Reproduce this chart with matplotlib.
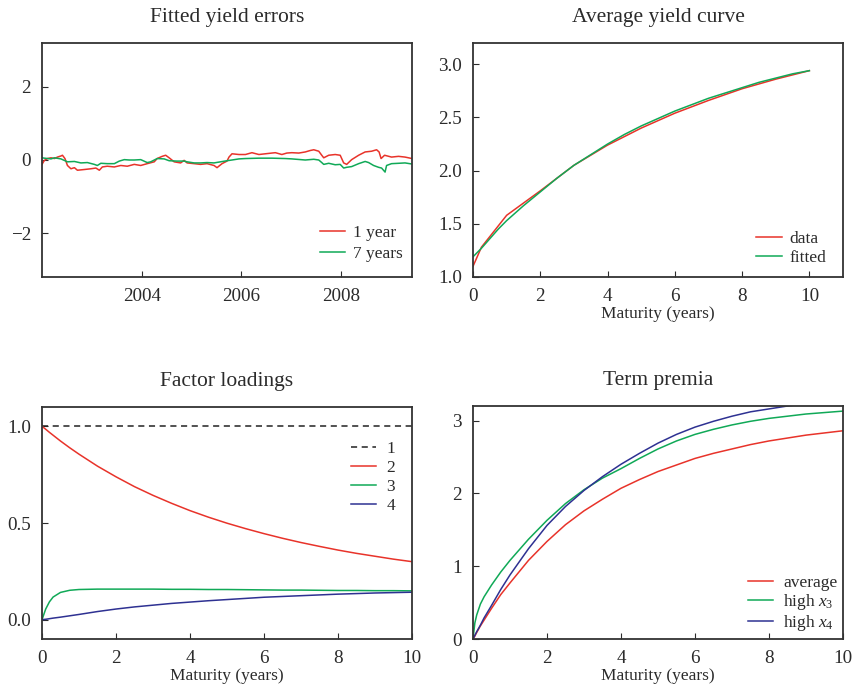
import matplotlib
matplotlib.use("Agg")
import matplotlib.pyplot as plt

plt.rcParams['font.family'] = ['Liberation Serif', 'DejaVu Serif']
plt.rcParams['mathtext.fontset'] = 'custom'
plt.rcParams['mathtext.rm'] = 'Liberation Serif'
plt.rcParams['mathtext.it'] = 'Liberation Serif:italic'
plt.rcParams['text.color'] = '#2b2b2b'
plt.rcParams['axes.labelcolor'] = '#2b2b2b'
plt.rcParams['xtick.color'] = '#2b2b2b'
plt.rcParams['ytick.color'] = '#2b2b2b'

RED = '#e8332a'
GREEN = '#10a957'
BLUE = '#2e3192'

# ---------------- Panel 1: fitted yield errors ----------------
err1_dates = [2002.00, 2002.03, 2002.05, 2002.11, 2002.18, 2002.25, 2002.31, 2002.38, 2002.41,
              2002.46, 2002.51, 2002.58, 2002.65, 2002.71, 2002.85, 2002.98, 2003.08, 2003.15,
              2003.21, 2003.31, 2003.45, 2003.58, 2003.71, 2003.85, 2003.98, 2004.11, 2004.25,
              2004.31, 2004.41, 2004.48, 2004.55, 2004.65, 2004.78, 2004.85, 2004.91, 2005.05,
              2005.18, 2005.31, 2005.45, 2005.51, 2005.61, 2005.71, 2005.75, 2005.81, 2005.95,
              2006.08, 2006.21, 2006.35, 2006.48, 2006.61, 2006.68, 2006.81, 2006.91, 2007.01,
              2007.15, 2007.28, 2007.38, 2007.45, 2007.55, 2007.61, 2007.65, 2007.75, 2007.88,
              2007.98, 2008.05, 2008.11, 2008.21, 2008.35, 2008.48, 2008.61, 2008.71, 2008.76,
              2008.80, 2008.87, 2009.01, 2009.15, 2009.28, 2009.42]
err1_vals = [-0.12, -0.05, -0.01, 0.04, 0.06, 0.04, 0.08, 0.11, 0.13,
             0.04, -0.15, -0.24, -0.21, -0.28, -0.26, -0.24, -0.22, -0.28,
             -0.19, -0.17, -0.19, -0.15, -0.17, -0.12, -0.15, -0.10, -0.05,
             0.04, 0.10, 0.13, 0.06, -0.05, -0.08, -0.01, -0.08, -0.10,
             -0.12, -0.10, -0.15, -0.21, -0.10, -0.03, 0.08, 0.17, 0.15,
             0.15, 0.20, 0.15, 0.17, 0.19, 0.20, 0.15, 0.19, 0.20,
             0.19, 0.22, 0.26, 0.28, 0.24, 0.13, 0.06, 0.13, 0.15,
             0.13, -0.08, -0.12, 0.01, 0.13, 0.22, 0.24, 0.28, 0.22,
             0.04, 0.13, 0.08, 0.10, 0.08, 0.04]

err7_dates = [2002.00, 2002.05, 2002.11, 2002.18, 2002.25, 2002.38, 2002.51, 2002.65, 2002.78,
              2002.91, 2003.05, 2003.11, 2003.18, 2003.31, 2003.45, 2003.55, 2003.65, 2003.75,
              2003.85, 2003.98, 2004.11, 2004.18, 2004.31, 2004.45, 2004.55, 2004.71, 2004.85,
              2004.91, 2005.05, 2005.18, 2005.31, 2005.45, 2005.58, 2005.71, 2005.81, 2005.95,
              2006.08, 2006.35, 2006.61, 2006.88, 2007.01, 2007.28, 2007.45, 2007.55, 2007.61,
              2007.65, 2007.75, 2007.88, 2007.98, 2008.05, 2008.11, 2008.21, 2008.35, 2008.48,
              2008.55, 2008.65, 2008.75, 2008.81, 2008.88, 2008.91, 2009.01, 2009.15, 2009.28,
              2009.42]
err7_vals = [0.06, 0.05, 0.04, 0.03, 0.06, 0.03, -0.05, -0.04, -0.08,
             -0.07, -0.12, -0.15, -0.09, -0.10, -0.10, -0.03, 0.01, 0.00,
             0.00, 0.01, -0.07, -0.05, 0.04, 0.03, -0.02, -0.03, -0.03,
             -0.05, -0.08, -0.08, -0.07, -0.08, -0.05, -0.02, 0.00, 0.03,
             0.04, 0.05, 0.05, 0.04, 0.03, 0.00, 0.02, 0.00, -0.07,
             -0.12, -0.09, -0.13, -0.12, -0.22, -0.20, -0.18, -0.10, -0.04,
             -0.07, -0.15, -0.20, -0.22, -0.33, -0.15, -0.10, -0.09, -0.08,
             -0.11]
err_labels = ['1 year', '7 years']
year_ticks = [2004, 2006, 2008]

# ---------------- Panel 2: average yield curve ----------------
data_mat = [0, 0.25, 1, 2, 3, 4, 5, 6, 7, 8, 9, 10]
data_yield = [1.10, 1.28, 1.58, 1.81, 2.05, 2.24, 2.40, 2.54, 2.66, 2.77, 2.86, 2.94]
fit_mat = [0, 0.25, 0.5, 0.75, 1, 1.5, 2, 2.5, 3, 3.5, 4, 4.5, 5, 5.5, 6, 6.5, 7, 7.5, 8, 8.5,
           9, 9.5, 10]
fit_yield = [1.19, 1.27, 1.36, 1.45, 1.53, 1.67, 1.80, 1.93, 2.05, 2.15, 2.25, 2.34, 2.42,
             2.49, 2.56, 2.62, 2.68, 2.73, 2.78, 2.83, 2.87, 2.91, 2.94]
curve_labels = ['data', 'fitted']

# ---------------- Panel 3: factor loadings ----------------
load_mat = [0, 0.1, 0.2, 0.3, 0.5, 0.75, 1, 1.5, 2, 2.5, 3, 3.5, 4, 4.5, 5, 5.5, 6, 6.5, 7,
            7.5, 8, 8.5, 9, 9.5, 10]
load1 = [1.0] * 25
load2 = [1.000, 0.985, 0.969, 0.954, 0.924, 0.889, 0.856, 0.794, 0.739, 0.688, 0.643,
         0.602, 0.564, 0.530, 0.499, 0.471, 0.445, 0.421, 0.399, 0.379, 0.360, 0.343,
         0.328, 0.313, 0.300]
load3 = [0.000, 0.055, 0.092, 0.117, 0.141, 0.152, 0.156, 0.158, 0.158, 0.158, 0.158,
         0.157, 0.157, 0.156, 0.156, 0.155, 0.154, 0.153, 0.153, 0.152, 0.151, 0.151,
         0.150, 0.150, 0.149]
load4 = [0.000, 0.002, 0.005, 0.008, 0.013, 0.020, 0.027, 0.042, 0.055, 0.066, 0.075,
         0.084, 0.091, 0.098, 0.104, 0.110, 0.116, 0.120, 0.124, 0.128, 0.132, 0.135,
         0.138, 0.140, 0.142]
load_labels = ['1', '2', '3', '4']

# ---------------- Panel 4: term premia ----------------
tp_mat = [0, 0.05, 0.1, 0.2, 0.3, 0.5, 0.75, 1, 1.5, 2, 2.5, 3, 3.5, 4, 4.5, 5, 5.5, 6, 6.5,
          7, 7.5, 8, 8.5, 9, 9.5, 10]
tp_avg = [0.00, 0.04, 0.09, 0.18, 0.26, 0.42, 0.61, 0.77, 1.08, 1.34, 1.57, 1.76, 1.92,
          2.07, 2.19, 2.30, 2.39, 2.48, 2.55, 2.61, 2.67, 2.72, 2.76, 2.80, 2.83, 2.86]
tp_x3 = [0.00, 0.22, 0.33, 0.48, 0.58, 0.74, 0.92, 1.08, 1.37, 1.63, 1.86, 2.05, 2.21,
         2.34, 2.48, 2.61, 2.72, 2.81, 2.88, 2.94, 2.99, 3.03, 3.06, 3.09, 3.11, 3.13]
tp_x4 = [0.00, 0.05, 0.10, 0.19, 0.29, 0.46, 0.68, 0.88, 1.24, 1.56, 1.82, 2.04, 2.23,
         2.40, 2.55, 2.69, 2.81, 2.91, 2.99, 3.06, 3.12, 3.16, 3.20, 3.23, 3.26, 3.28]
tp_labels = ['average', 'high $x_3$', 'high $x_4$']

maturity_ticks = [0, 2, 4, 6, 8, 10]

# ---------------- Figure ----------------
W, H = 852, 688
fig = plt.figure(figsize=(W / 100, H / 100), dpi=100)


def px_axes(l, t, r, b):
    return fig.add_axes([l / W, 1 - b / H, (r - l) / W, (b - t) / H])


ax1 = px_axes(42, 43, 412, 277)
ax2 = px_axes(473, 43, 843, 277)
ax3 = px_axes(42, 407, 412, 639)
ax4 = px_axes(473, 406, 843, 639)

FS = 12.5      # legend / axis label size
TKS = 13.8     # tick label size
TFS = 15.5     # title size
LW = 1.1

for ax in (ax1, ax2, ax3, ax4):
    for sp in ax.spines.values():
        sp.set_color('#333333')
        sp.set_linewidth(1.3)
    ax.tick_params(direction='in', length=4, width=0.8, top=False, right=False,
                   labelsize=TKS)
    ax.tick_params(axis='y', pad=8)
    ax.tick_params(axis='x', pad=8)

leg_kw = dict(frameon=False, fontsize=FS, handlelength=1.45, borderaxespad=0.0,
              borderpad=0.0)

# Panel 1
ax1.plot(err1_dates, err1_vals, color=RED, lw=LW, label=err_labels[0])
ax1.plot(err7_dates, err7_vals, color=GREEN, lw=LW, label=err_labels[1])
ax1.set_xlim(2002.0, 2009.42)
ax1.set_ylim(-3.2, 3.2)
ax1.set_xticks(year_ticks)
ax1.set_xticklabels([str(y) for y in year_ticks])
ax1.set_yticks([-2, 0, 2])
ax1.set_title('Fitted yield errors', fontsize=TFS, pad=15)
ax1.legend(loc='lower right', handletextpad=0.45, labelspacing=0.25,
           bbox_to_anchor=(0.975, 0.065), **leg_kw)

# Panel 2
ax2.plot(data_mat, data_yield, color=RED, lw=LW, label=curve_labels[0])
ax2.plot(fit_mat, fit_yield, color=GREEN, lw=LW, label=curve_labels[1])
ax2.set_xlim(0, 11)
ax2.set_ylim(1.0, 3.2)
ax2.set_xticks(maturity_ticks)
ax2.set_yticks([1.0, 1.5, 2.0, 2.5, 3.0])
ax2.set_yticklabels(['1.0', '1.5', '2.0', '2.5', '3.0'])
ax2.set_xlabel('Maturity (years)', fontsize=FS, labelpad=1)
ax2.set_title('Average yield curve', fontsize=TFS, pad=15)
ax2.legend(loc='lower right', handletextpad=0.45, labelspacing=0.18,
           bbox_to_anchor=(0.955, 0.045), **leg_kw)

# Panel 3
ax3.plot(load_mat, load1, color='#222222', lw=LW, ls=(0, (4, 3)), label=load_labels[0])
ax3.plot(load_mat, load2, color=RED, lw=LW, label=load_labels[1])
ax3.plot(load_mat, load3, color=GREEN, lw=LW, label=load_labels[2])
ax3.plot(load_mat, load4, color=BLUE, lw=LW, label=load_labels[3])
ax3.set_xlim(0, 10)
ax3.set_ylim(-0.1, 1.1)
ax3.set_xticks(maturity_ticks)
ax3.set_yticks([0.0, 0.5, 1.0])
ax3.set_yticklabels(['0.0', '0.5', '1.0'])
ax3.set_xlabel('Maturity (years)', fontsize=FS, labelpad=1)
ax3.set_title('Factor loadings', fontsize=TFS, pad=15)
ax3.legend(loc='upper right', handletextpad=0.6, labelspacing=0.16,
           bbox_to_anchor=(0.955, 0.855), **leg_kw)

# Panel 4
ax4.plot(tp_mat, tp_avg, color=RED, lw=LW, label=tp_labels[0])
ax4.plot(tp_mat, tp_x3, color=GREEN, lw=LW, label=tp_labels[1])
ax4.plot(tp_mat, tp_x4, color=BLUE, lw=LW, label=tp_labels[2])
ax4.set_xlim(0, 10)
ax4.set_ylim(0, 3.2)
ax4.set_xticks(maturity_ticks)
ax4.set_yticks([0, 1, 2, 3])
ax4.set_xlabel('Maturity (years)', fontsize=FS, labelpad=1)
ax4.set_title('Term premia', fontsize=TFS, pad=15)
ax4.legend(loc='lower right', handletextpad=0.6, labelspacing=0.05,
           bbox_to_anchor=(0.985, 0.025), **leg_kw)

fig.savefig('out.png', dpi=100)
